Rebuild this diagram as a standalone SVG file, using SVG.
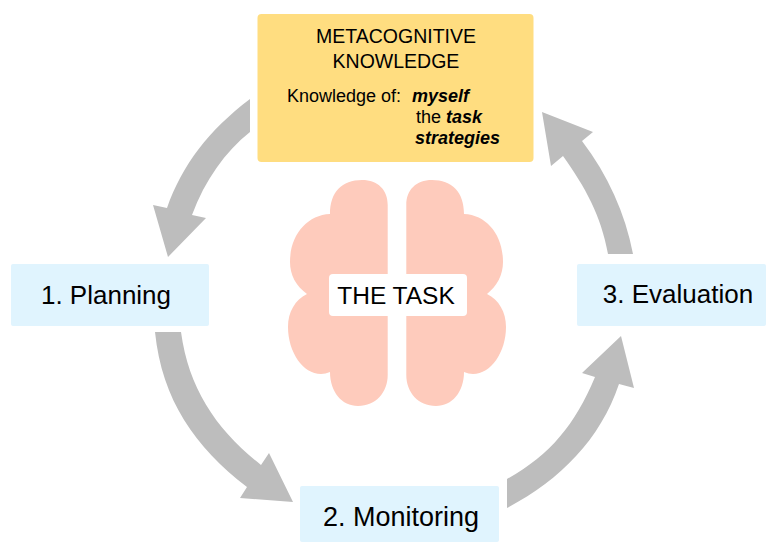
<svg xmlns="http://www.w3.org/2000/svg" width="766" height="542" viewBox="0 0 766 542">
<style>
text{font-family:"Liberation Sans",Arial,sans-serif;fill:#000}
.step{fill:#e0f4fe}
.lbl{font-size:26px;text-anchor:middle}
.h{font-size:19.500px;text-anchor:middle}
.k{font-size:18px}
.bi{font-weight:bold;font-style:italic}
.arrow{fill:#bdbdbd}
.brain{fill:#fecbbc}
</style>
<g id="connectors">
<path class="arrow" d="M250 99C209 130 182 165 167 208L153 205L168 257L206 218L192 215C205 180 225 152 250 132Z"/>
<path class="arrow" d="M155 332C162 400 195 447 247 487L240 498L293 502L269 453L261 465C217 430 189 390 181 332Z"/>
<path class="arrow" d="M507 508C560 480 600 440 619 384L634 388L621 336L582 373L595 377C575 425 550 455 507 479Z"/>
<path class="arrow" d="M633 254C625 213 608 175 582 141L593 132L542 112L551 166L563 156C585 187 601 215 608 254Z"/>
</g>
<g id="metacognitive">
<rect x="257.500" y="14" width="276" height="148" rx="4" fill="#ffdd80"/>
<text class="h" x="396" y="43">METACOGNITIVE</text>
<text class="h" x="396" y="68">KNOWLEDGE</text>
<text class="k" x="287" y="102">Knowledge of:</text>
<text class="k bi" x="412" y="102">myself</text>
<text class="k" x="416" y="123">the <tspan class="bi">task</tspan></text>
<text class="k bi" x="415" y="144">strategies</text>
</g>
<g id="brain">
<path class="brain" d="M387.700 205C387.700 190 378 180 362 180C342 180 330 192 330 214C307 215 290 235 290 262C290 275 296 286 307 294C295 300 288 312 288 327C288 352 303 374 321 374C324 374 327 373 330 372C330 392 342 406 358 406C376 406 387.700 392 387.700 375Z"/>
<path class="brain" d="M406.300 205C406.300 190 416 180 432 180C452 180 464 192 464 214C487 215 503 235 503 262C503 275 497 286 487 294C499 300 506 312 506 327C506 352 491 374 473 374C470 374 467 373 464 372C464 392 452 406 436 406C418 406 406.300 392 406.300 375Z"/>
</g>
<g id="task">
<rect x="329" y="274" width="138" height="42" rx="4" fill="#fff"/>
<text class="lbl" x="396" y="304" style="font-size:24.500px">THE TASK</text>
</g>
<g id="planning">
<rect class="step" x="11" y="264" width="198" height="62" rx="2"/>
<text class="lbl" x="106" y="304">1. Planning</text>
</g>
<g id="monitoring">
<rect class="step" x="300" y="486" width="199" height="56" rx="2"/>
<text class="lbl" x="401" y="526" style="font-size:27px">2. Monitoring</text>
</g>
<g id="evaluation">
<rect class="step" x="577" y="264" width="189" height="62" rx="2"/>
<text class="lbl" x="678" y="303">3. Evaluation</text>
</g>
</svg>
